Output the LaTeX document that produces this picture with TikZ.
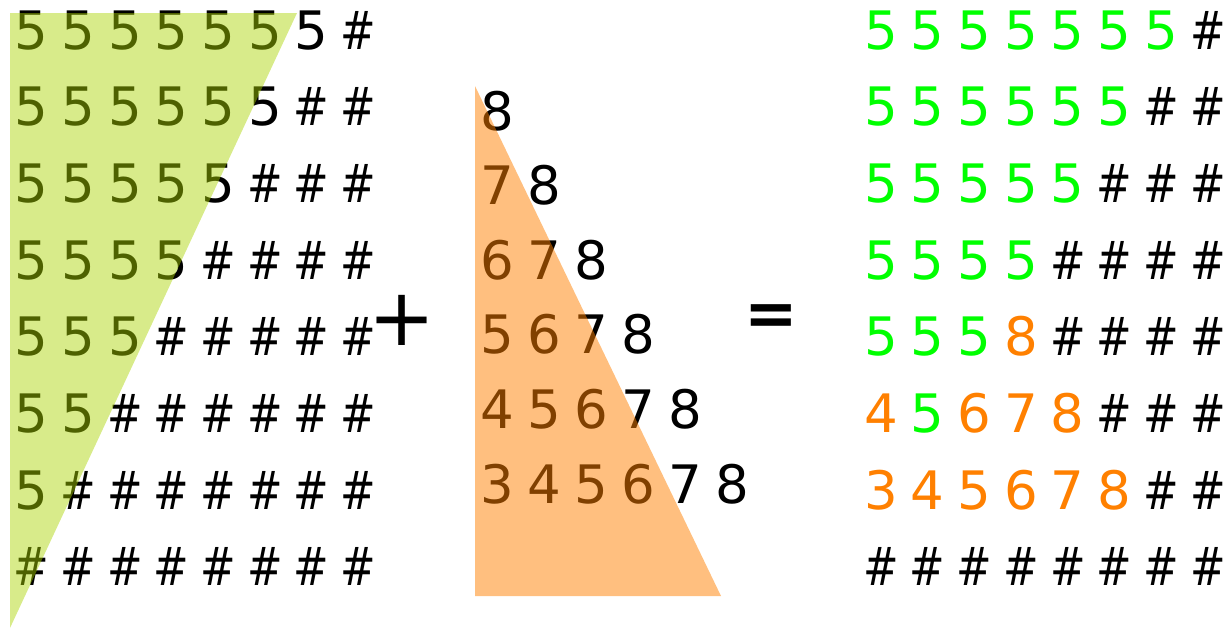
\documentclass[tikz,border=0pt]{standalone}
\usepackage{fontspec}
\setmainfont{DejaVu Sans}
\usetikzlibrary{positioning}

\definecolor{fivegreen}{RGB}{0,255,0}
\definecolor{eightorange}{RGB}{255,128,0}
\definecolor{wedgegreen}{RGB}{170,212,0}
\definecolor{wedgeorange}{RGB}{255,128,0}
\newcommand{\hsh}{\scalebox{0.8}[1]{\#}}

\begin{document}
\begin{tikzpicture}[
  x=1pt,y=-1pt,
  cell/.style={inner sep=0pt,anchor=base,font=\fontsize{53}{53}\selectfont},
  plussign/.style={inner sep=0pt,font=\fontsize{80}{80}\selectfont},
  eqsign/.style={inner sep=0pt,font=\fontsize{64}{64}\selectfont\bfseries},
  wedge/.style={fill opacity=0.46,draw=none}
]
\useasboundingbox (0,0) rectangle (1229,629);

% left grid: fives above the diagonal, hashes below
\foreach \r in {1,...,8}
  \foreach \c in {1,...,8}{
    \pgfmathsetmacro{\xx}{31.5+46.7*(\c-1)}
    \pgfmathsetmacro{\yy}{49+76.7*(\r-1)}
    \ifnum\numexpr\c+\r\relax<9 \def\txt{5}\else\def\txt{\hsh}\fi
    \node[cell] (L-\r-\c) at (\xx,\yy) {\txt};
  }

% middle staircase
\foreach \r in {1,...,6}
  \foreach \c in {1,...,\r}{
    \pgfmathsetmacro{\xx}{497+47*(\c-1)}
    \pgfmathsetmacro{\yy}{130+74.6*(\r-1)}
    \pgfmathtruncatemacro{\dig}{8-\r+\c}
    \node[cell] (M-\r-\c) at (\xx,\yy) {\dig};
  }

% translucent wedges over the digits
\fill[wedge,wedgegreen] (10,13) -- (297,13) -- (10,628) -- cycle;
\fill[wedge,wedgeorange,fill opacity=0.5] (475,86) -- (475,596) -- (721,596) -- cycle;

% operators
\node[plussign] (plus) at (402,320) {+};
\node[eqsign] (equals) at (771,320) {=};

% right grid: result (0 stands for #)
\foreach \rowcells [count=\r] in {
  {5/fivegreen,5/fivegreen,5/fivegreen,5/fivegreen,5/fivegreen,5/fivegreen,5/fivegreen,0/black},
  {5/fivegreen,5/fivegreen,5/fivegreen,5/fivegreen,5/fivegreen,5/fivegreen,0/black,0/black},
  {5/fivegreen,5/fivegreen,5/fivegreen,5/fivegreen,5/fivegreen,0/black,0/black,0/black},
  {5/fivegreen,5/fivegreen,5/fivegreen,5/fivegreen,0/black,0/black,0/black,0/black},
  {5/fivegreen,5/fivegreen,5/fivegreen,8/eightorange,0/black,0/black,0/black,0/black},
  {4/eightorange,5/fivegreen,6/eightorange,7/eightorange,8/eightorange,0/black,0/black,0/black},
  {3/eightorange,4/eightorange,5/eightorange,6/eightorange,7/eightorange,8/eightorange,0/black,0/black},
  {0/black,0/black,0/black,0/black,0/black,0/black,0/black,0/black}}
  \foreach \t/\col [count=\c] in \rowcells{
    \pgfmathsetmacro{\xx}{881+46.7*(\c-1)}
    \pgfmathsetmacro{\yy}{49+76.7*(\r-1)}
    \node[cell,text=\col] (R-\r-\c) at (\xx,\yy) {\ifnum\t=0 \hsh\else\t\fi};
  }
\end{tikzpicture}
\end{document}
